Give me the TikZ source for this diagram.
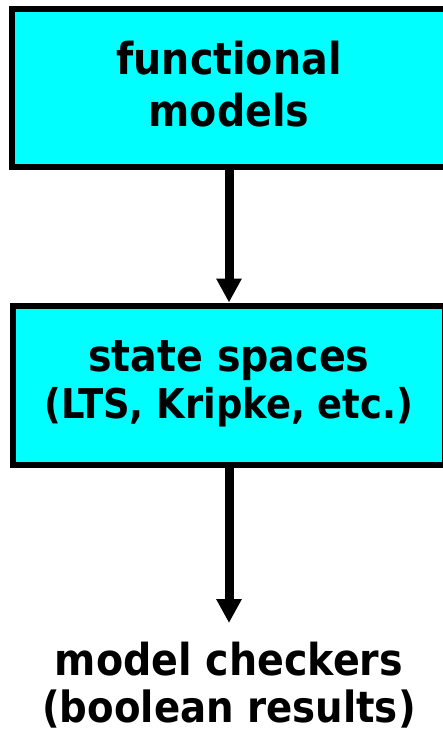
\documentclass[tikz,border=0pt]{standalone}
\usepackage{fontspec}
\setmainfont{DejaVu Sans Condensed}
\usetikzlibrary{arrows.meta}
\definecolor{boxcyan}{HTML}{00FFFF}
\tikzset{
  stagebox/.style={draw=black, fill=boxcyan, line width=6pt, align=center,
    inner sep=0pt, font=\bfseries\fontsize{44}{47}\selectfont},
  flowarrow/.style={line width=9pt, -{Triangle[width=24pt,length=24pt]}},
  plaintext/.style={align=center, inner xsep=0pt, inner ysep=18.6pt, outer sep=0pt,
    font=\bfseries\fontsize{44}{47}\selectfont}
}
\begin{document}
\begin{tikzpicture}[x=1pt,y=-1pt]
\useasboundingbox (0,0) rectangle (443,735);
\clip (0,0) rectangle (443,735);
\node[stagebox, minimum width=434pt, minimum height=158pt,
  font=\bfseries\fontsize{44}{52}\selectfont] (b1) at (229,88)
  {functional\\models\rule[-7.5pt]{0pt}{1pt}};
\node[stagebox, minimum width=432pt, minimum height=159pt] (b2) at (229,385)
  {state spaces\\{\fontsize{41}{47}\selectfont (LTS, Kripke, etc.)}\rule[-11pt]{0pt}{1pt}};
\node[plaintext, anchor=north] (mc) at (229,623)
  {model checkers\\{\fontsize{43}{47}\selectfont (boolean results)}};
\draw[flowarrow] (b1.south) -- (b2.north);
\draw[flowarrow] (b2.south) -- (mc.north);
\end{tikzpicture}
\end{document}
